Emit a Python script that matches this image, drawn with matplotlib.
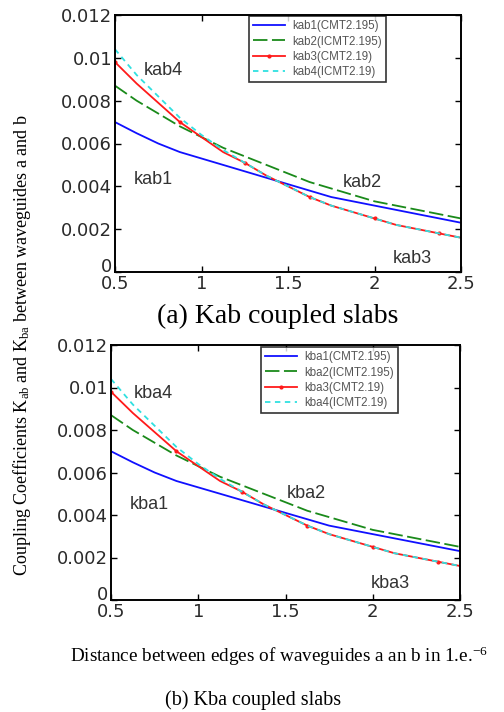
#!/usr/bin/env python3
"""Coupling coefficients Kab / Kba versus edge distance, two stacked panels."""

import matplotlib
matplotlib.use("Agg")
import matplotlib.pyplot as plt

plt.rcParams["font.family"] = ["Liberation Sans", "DejaVu Sans"]
plt.rcParams["mathtext.fontset"] = "custom"
plt.rcParams["mathtext.rm"] = "Liberation Serif"
plt.rcParams["mathtext.it"] = "Liberation Serif:italic"

distance = [0.5, 0.625, 0.75, 0.875, 1.0, 1.125, 1.25, 1.375, 1.5,
            1.625, 1.75, 1.875, 2.0, 2.125, 2.25, 2.375, 2.5]

k1 = [0.0070, 0.00648, 0.0060, 0.0056, 0.0053, 0.0050, 0.0047, 0.0044, 0.0041,
      0.0038, 0.0035, 0.0033, 0.0031, 0.0029, 0.0027, 0.0025, 0.0023]
k2 = [0.0087, 0.0080, 0.0074, 0.0068, 0.0063, 0.0058, 0.0054, 0.0050, 0.0046,
      0.0042, 0.0039, 0.0036, 0.0033, 0.0031, 0.0029, 0.0027, 0.0025]
k3 = [0.0098, 0.0088, 0.0079, 0.0070, 0.0063, 0.0056, 0.0051, 0.0045, 0.0040,
      0.0035, 0.0031, 0.0028, 0.0025, 0.0022, 0.0020, 0.0018, 0.0016]
k4 = [0.0104, 0.0092, 0.0082, 0.0072, 0.0064, 0.0057, 0.0051, 0.0045, 0.0040,
      0.0035, 0.0031, 0.0028, 0.0025, 0.0022, 0.0020, 0.0018, 0.0016]

legend_suffix = ["(CMT2.195)", "(ICMT2.195)", "(CMT2.19)", "(ICMT2.19)"]
x_ticks = [0.5, 1, 1.5, 2, 2.5]
x_ticklabels = ["0.5", "1", "1.5", "2", "2.5"]
y_ticks = [0, 0.002, 0.004, 0.006, 0.008, 0.01, 0.012]
y_ticklabels = ["0", "0.002", "0.004", "0.006", "0.008", "0.01", "0.012"]

# annotation positions (data coords) for curve names in each panel
top_notes = {"kab4": (0.78, 0.0094), "kab1": (0.72, 0.0043),
             "kab2": (1.93, 0.0042), "kab3": (2.22, 0.00065)}
bottom_notes = {"kba4": (0.74, 0.0097), "kba1": (0.72, 0.0045),
                "kba2": (1.62, 0.0050), "kba3": (2.10, 0.0008)}


def draw_panel(ax, prefix, notes, legend_anchor):
    styles = [
        dict(color="#1010ff", lw=1.3, ls="-"),
        dict(color="#1a8a1a", lw=1.3, ls=(0, (8, 2.5))),
        dict(color="#ff1a1a", lw=1.3, ls="-", marker=".", markersize=4, markevery=3),
        dict(color="#30e0e0", lw=1.3, ls=(0, (3, 2.5))),
    ]
    for series, style, suffix, idx in zip((k1, k2, k3, k4), styles, legend_suffix, range(1, 5)):
        ax.plot(distance, series, label=f"{prefix}{idx}{suffix}", **style)
    ax.set_xlim(0.5, 2.5)
    ax.set_ylim(0, 0.012)
    ax.set_xticks(x_ticks)
    ax.set_xticklabels(x_ticklabels)
    ax.set_yticks(y_ticks)
    ax.set_yticklabels(y_ticklabels)
    ax.tick_params(direction="in", top=True, right=True, length=4, width=1,
                   labelsize=13, pad=2)
    for label in ax.get_xticklabels() + ax.get_yticklabels():
        label.set_family(["DejaVu Sans"])
        label.set_color("#2a2a2a")
    # the "0" label sits just above the "0.5" label, as in the original
    ax.get_yticklabels()[0].set_va("baseline")
    for spine in ax.spines.values():
        spine.set_linewidth(1.4)
    for text, (x, y) in notes.items():
        ax.text(x, y, text, fontsize=13, color="#333333", ha="center", va="center")
    leg = ax.legend(loc="upper right", bbox_to_anchor=legend_anchor, fontsize=8.3,
                    frameon=True, fancybox=False, edgecolor="black",
                    handlelength=2.8, handletextpad=0.6, borderpad=0.35,
                    labelspacing=0.3, borderaxespad=0)
    leg.get_frame().set_linewidth(1.2)
    for t in leg.get_texts():
        t.set_color("#555555")


fig = plt.figure(figsize=(5.04, 7.12), dpi=100)
ax_top = fig.add_axes([115 / 504, 1 - 272 / 712, 346 / 504, 257 / 712])
ax_bot = fig.add_axes([111 / 504, 1 - 600 / 712, 349 / 504, 255 / 712])

draw_panel(ax_top, "kab", top_notes, (0.783, 0.996))
draw_panel(ax_bot, "kba", bottom_notes, (0.822, 0.992))

serif = ["Liberation Serif", "DejaVu Serif"]
fig.text(278 / 504, 1 - 316 / 712, "(a) Kab coupled slabs", family=serif,
         fontsize=20, ha="center", va="center")
fig.text(22 / 504, 1 - 345 / 712,
         r"Coupling Coefficients K$_{\mathrm{ab}}$ and K$_{\mathrm{ba}}$ between waveguides a and b",
         family=serif, fontsize=13, rotation=90, ha="center", va="center")
fig.text(70 / 504, 1 - 656 / 712,
         r"Distance between edges of waveguides a an b in 1.e.$^{\mathrm{-6}}$",
         family=serif, fontsize=13.8, ha="left", va="center")
fig.text(253 / 504, 1 - 700 / 712, "(b) Kba coupled slabs", family=serif,
         fontsize=14.5, ha="center", va="center")

fig.savefig("out.png", dpi=100)
